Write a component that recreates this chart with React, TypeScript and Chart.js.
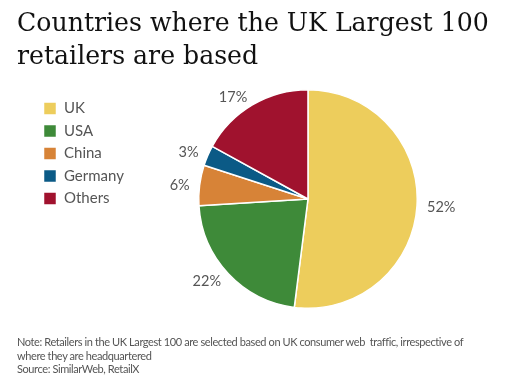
import React, { useEffect, useRef } from "react";
import { Chart, registerables } from "chart.js";

Chart.register(...registerables);

const categories = ["UK", "USA", "China", "Germany", "Others"];
const shares = [52, 22, 6, 3, 17];
const colors = ["#EDCD5C", "#3E8A39", "#D78337", "#0B5A86", "#A0122E"];

const titleLines = ["Countries where the UK Largest 100", "retailers are based"];
const noteLines = [
  "Note: Retailers in the UK Largest 100 are selected based on UK consumer web  traffic, irrespective of",
  "where they are headquartered",
];
const sourceLine = "Source: SimilarWeb, RetailX";

const SANS = "Lato, 'Open Sans', sans-serif";

const pctLabels = {
  id: "pctLabels",
  afterDatasetsDraw(chart: any) {
    const ctx = chart.ctx;
    const meta = chart.getDatasetMeta(0);
    ctx.save();
    ctx.font = `14.5px ${SANS}`;
    ctx.fillStyle = "#555555";
    ctx.textBaseline = "middle";
    meta.data.forEach((arc: any, i: number) => {
      const p = arc.getProps(["x", "y", "startAngle", "endAngle", "outerRadius"], true);
      const mid = (p.startAngle + p.endAngle) / 2;
      const r = p.outerRadius + 10;
      const c = Math.cos(mid);
      ctx.textAlign = c >= 0 ? "left" : "right";
      ctx.fillText(`${shares[i]}%`, p.x + c * r, p.y + Math.sin(mid) * r + 1);
    });
    ctx.restore();
  },
};

export default function App() {
  const ref = useRef<HTMLCanvasElement | null>(null);

  useEffect(() => {
    if (!ref.current) return;
    const chart = new Chart(ref.current, {
      type: "pie",
      data: {
        labels: categories,
        datasets: [
          {
            data: shares,
            backgroundColor: colors,
            borderColor: "#ffffff",
            borderWidth: 1.5,
          },
        ],
      },
      options: {
        animation: false,
        responsive: false,
        layout: { padding: { top: 89, bottom: 80, left: 36, right: 25 } },
        plugins: {
          tooltip: { enabled: false },
          legend: {
            position: "left",
            align: "start",
            title: { display: true, text: "", font: { size: 1, lineHeight: 1 }, padding: { top: 0, bottom: 3.5 } },
            labels: {
              boxWidth: 13,
              boxHeight: 13,
              padding: 7.5,
              color: "#555555",
              font: { size: 15, family: SANS },
            },
          },
        },
      },
      plugins: [pctLabels],
    });
    return () => chart.destroy();
  }, []);

  return (
    <div style={{ position: "fixed", left: 0, top: 0, width: 507, height: 389, background: "#fff", overflow: "hidden" }}>
      <canvas ref={ref} width={507} height={389} style={{ position: "absolute", left: 0, top: 0, width: 507, height: 389 }} />
      <div
        style={{
          position: "absolute",
          left: 17,
          top: 6,
          fontFamily: "'DejaVu Serif', serif",
          fontSize: 25.2,
          lineHeight: "33px",
          color: "#111",
          whiteSpace: "nowrap",
        }}
      >
        {titleLines.map((t, i) => (
          <div key={i}>{t}</div>
        ))}
      </div>
      <div
        style={{
          position: "absolute",
          left: 17,
          top: 335,
          fontFamily: SANS,
          fontSize: 11,
          letterSpacing: "-0.4px",
          lineHeight: "13.5px",
          color: "#555",
          whiteSpace: "pre",
        }}
      >
        {noteLines.map((t, i) => (
          <div key={i}>{t}</div>
        ))}
        <div>{sourceLine}</div>
      </div>
    </div>
  );
}
